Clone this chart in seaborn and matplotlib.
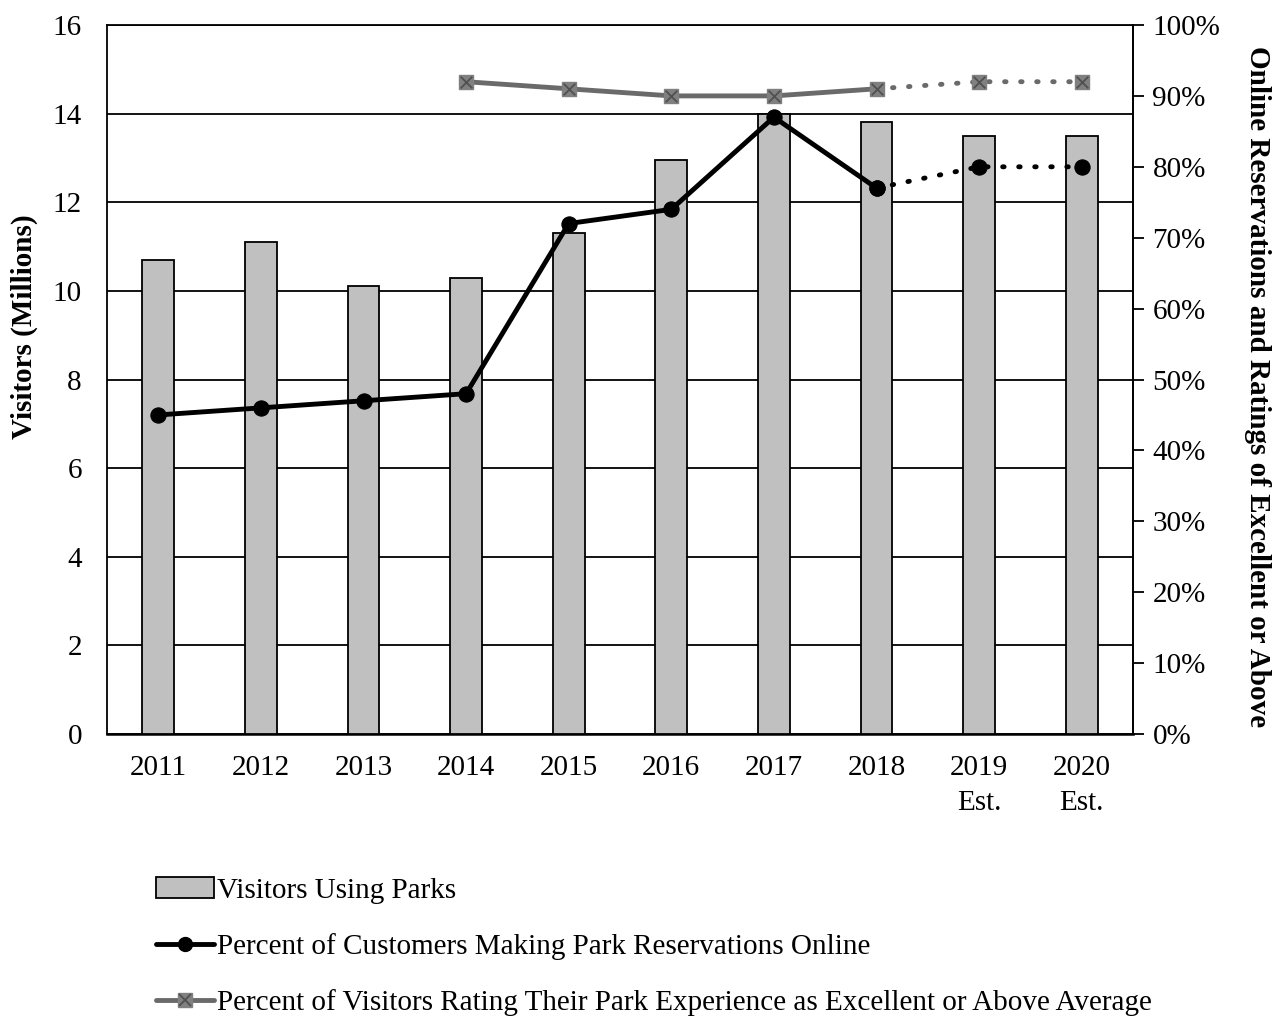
import matplotlib
matplotlib.use("Agg")
import matplotlib.pyplot as plt
import seaborn as sns
import pandas as pd
import numpy as np
from matplotlib.legend_handler import HandlerTuple
from matplotlib.lines import Line2D
from matplotlib.patches import Patch

years = ["2011", "2012", "2013", "2014", "2015", "2016", "2017", "2018", "2019\nEst.", "2020\nEst."]
visitors = [10.7, 11.1, 10.1, 10.3, 11.3, 12.95, 14.0, 13.8, 13.5, 13.5]
online_pct = [45, 46, 47, 48, 72, 74, 87, 77, 80, 80]
rating_pct = [None, None, None, 92, 91, 90, 90, 91, 92, 92]

sns.set_theme(style="white")
plt.rcParams['font.family'] = ['Liberation Serif', 'DejaVu Serif']
plt.rcParams['text.color'] = 'black'
plt.rcParams['axes.labelcolor'] = 'black'
plt.rcParams['xtick.color'] = 'black'
plt.rcParams['ytick.color'] = 'black'

TICK_FS = 21
LABEL_FS = 21
W, H = 1275, 1019

fig = plt.figure(figsize=(12.75, 10.19), dpi=100)
ax = fig.add_axes([107 / W, 1 - 734 / H, (1133 - 107) / W, (734 - 25) / H])

df = pd.DataFrame({"year": years, "visitors": visitors})
sns.barplot(data=df, x="year", y="visitors", ax=ax, color="#c0c0c0", saturation=1,
            width=0.31, edgecolor="black", linewidth=1.3, zorder=3)
ax.set_ylim(0, 16)
ax.set_xlim(-0.5, len(years) - 0.5)
ax.set_yticks(np.arange(0, 17, 2))
ax.yaxis.grid(True, color="black", linewidth=1.3, zorder=0)
ax.set_axisbelow(True)
ax.set_xlabel("")
ax.set_ylabel("")
ax.tick_params(axis="y", length=0, labelsize=TICK_FS, pad=18)
ax.tick_params(axis="x", length=0, labelsize=TICK_FS, pad=15)
for lbl in ax.get_xticklabels():
    lbl.set_linespacing(1.45)
for s in ["left", "right", "top", "bottom"]:
    ax.spines[s].set_visible(True)
    ax.spines[s].set_color("black")
    ax.spines[s].set_linewidth(1.3)
ax.spines["bottom"].set_linewidth(1.8)

ax2 = ax.twinx()
ax2.set_ylim(0, 100)
ax2.set_yticks(np.arange(0, 101, 10))
ax2.set_yticklabels([f"{v}%" for v in range(0, 101, 10)])
ax2.tick_params(axis="y", direction="out", length=8, width=1.3, labelsize=TICK_FS, pad=6, colors="black")
ax2.set_ylabel("")
for s in ["left", "right", "top", "bottom"]:
    ax2.spines[s].set_visible(False)
ax2.spines["right"].set_visible(True)
ax2.spines["right"].set_color("black")
ax2.spines["right"].set_linewidth(1.3)
ax2.grid(False)

# Axis titles
fig.text(24 / W, 1 - 327 / H, "Visitors (Millions)", rotation=90, ha="center", va="center",
         fontsize=LABEL_FS, fontweight="bold")
fig.text(1257 / W, 1 - 387 / H, "Online Reservations and Ratings of Excellent or Above",
         rotation=270, ha="center", va="center", fontsize=LABEL_FS, fontweight="bold")

x = np.arange(len(years))
# Online reservations
sns.lineplot(x=x[:8], y=online_pct[:8], ax=ax2, color="black", linewidth=3.5,
             marker="o", markersize=11, markeredgecolor="black", zorder=5)
sns.lineplot(x=x[7:], y=online_pct[7:], ax=ax2, color="black", linewidth=3.5,
             linestyle=(0, (0.3, 3.0)), dash_capstyle="round", marker="o", markersize=11,
             markeredgecolor="black", zorder=5)

# Ratings
rx = np.array([i for i, v in enumerate(rating_pct) if v is not None])
ry = np.array([v for v in rating_pct if v is not None], dtype=float)
solid = rx <= 7
dotted = rx >= 7
gray_line = "#6a6a6a"
sns.lineplot(x=rx[solid], y=ry[solid], ax=ax2, color=gray_line, linewidth=3.5, zorder=5)
sns.lineplot(x=rx[dotted], y=ry[dotted], ax=ax2, color=gray_line, linewidth=3.5,
             linestyle=(0, (0.3, 3.0)), dash_capstyle="round", zorder=5)
ax2.scatter(rx, ry, marker="s", s=110, color="#808080", edgecolor="#808080", zorder=6)
ax2.scatter(rx, ry, marker="x", s=70, color="#505050", linewidths=1.3, zorder=7)

# Legend
h_bar = Patch(facecolor="#c0c0c0", edgecolor="black", linewidth=1.3)
h_online = Line2D([], [], color="black", linewidth=3.5, marker="o", markersize=10)
h_rate_line = Line2D([], [], color=gray_line, linewidth=3.5, marker="s", markersize=10,
                     markerfacecolor="#808080", markeredgecolor="#808080")
h_rate_x = Line2D([], [], linestyle="none", marker="x", markersize=8, color="#505050",
                  markeredgewidth=1.3)
fig.legend([h_bar, h_online, (h_rate_line, h_rate_x)],
           ["Visitors Using Parks",
            "Percent of Customers Making Park Reservations Online",
            "Percent of Visitors Rating Their Park Experience as Excellent or Above Average"],
           handler_map={tuple: HandlerTuple(ndivide=1, pad=0)},
           loc="upper left", bbox_to_anchor=(0.122, 0.139), frameon=False,
           fontsize=TICK_FS, labelspacing=1.0, handlelength=2.0, handletextpad=0.1,
           borderpad=0, borderaxespad=0)

fig.savefig("out.png", dpi=100)
